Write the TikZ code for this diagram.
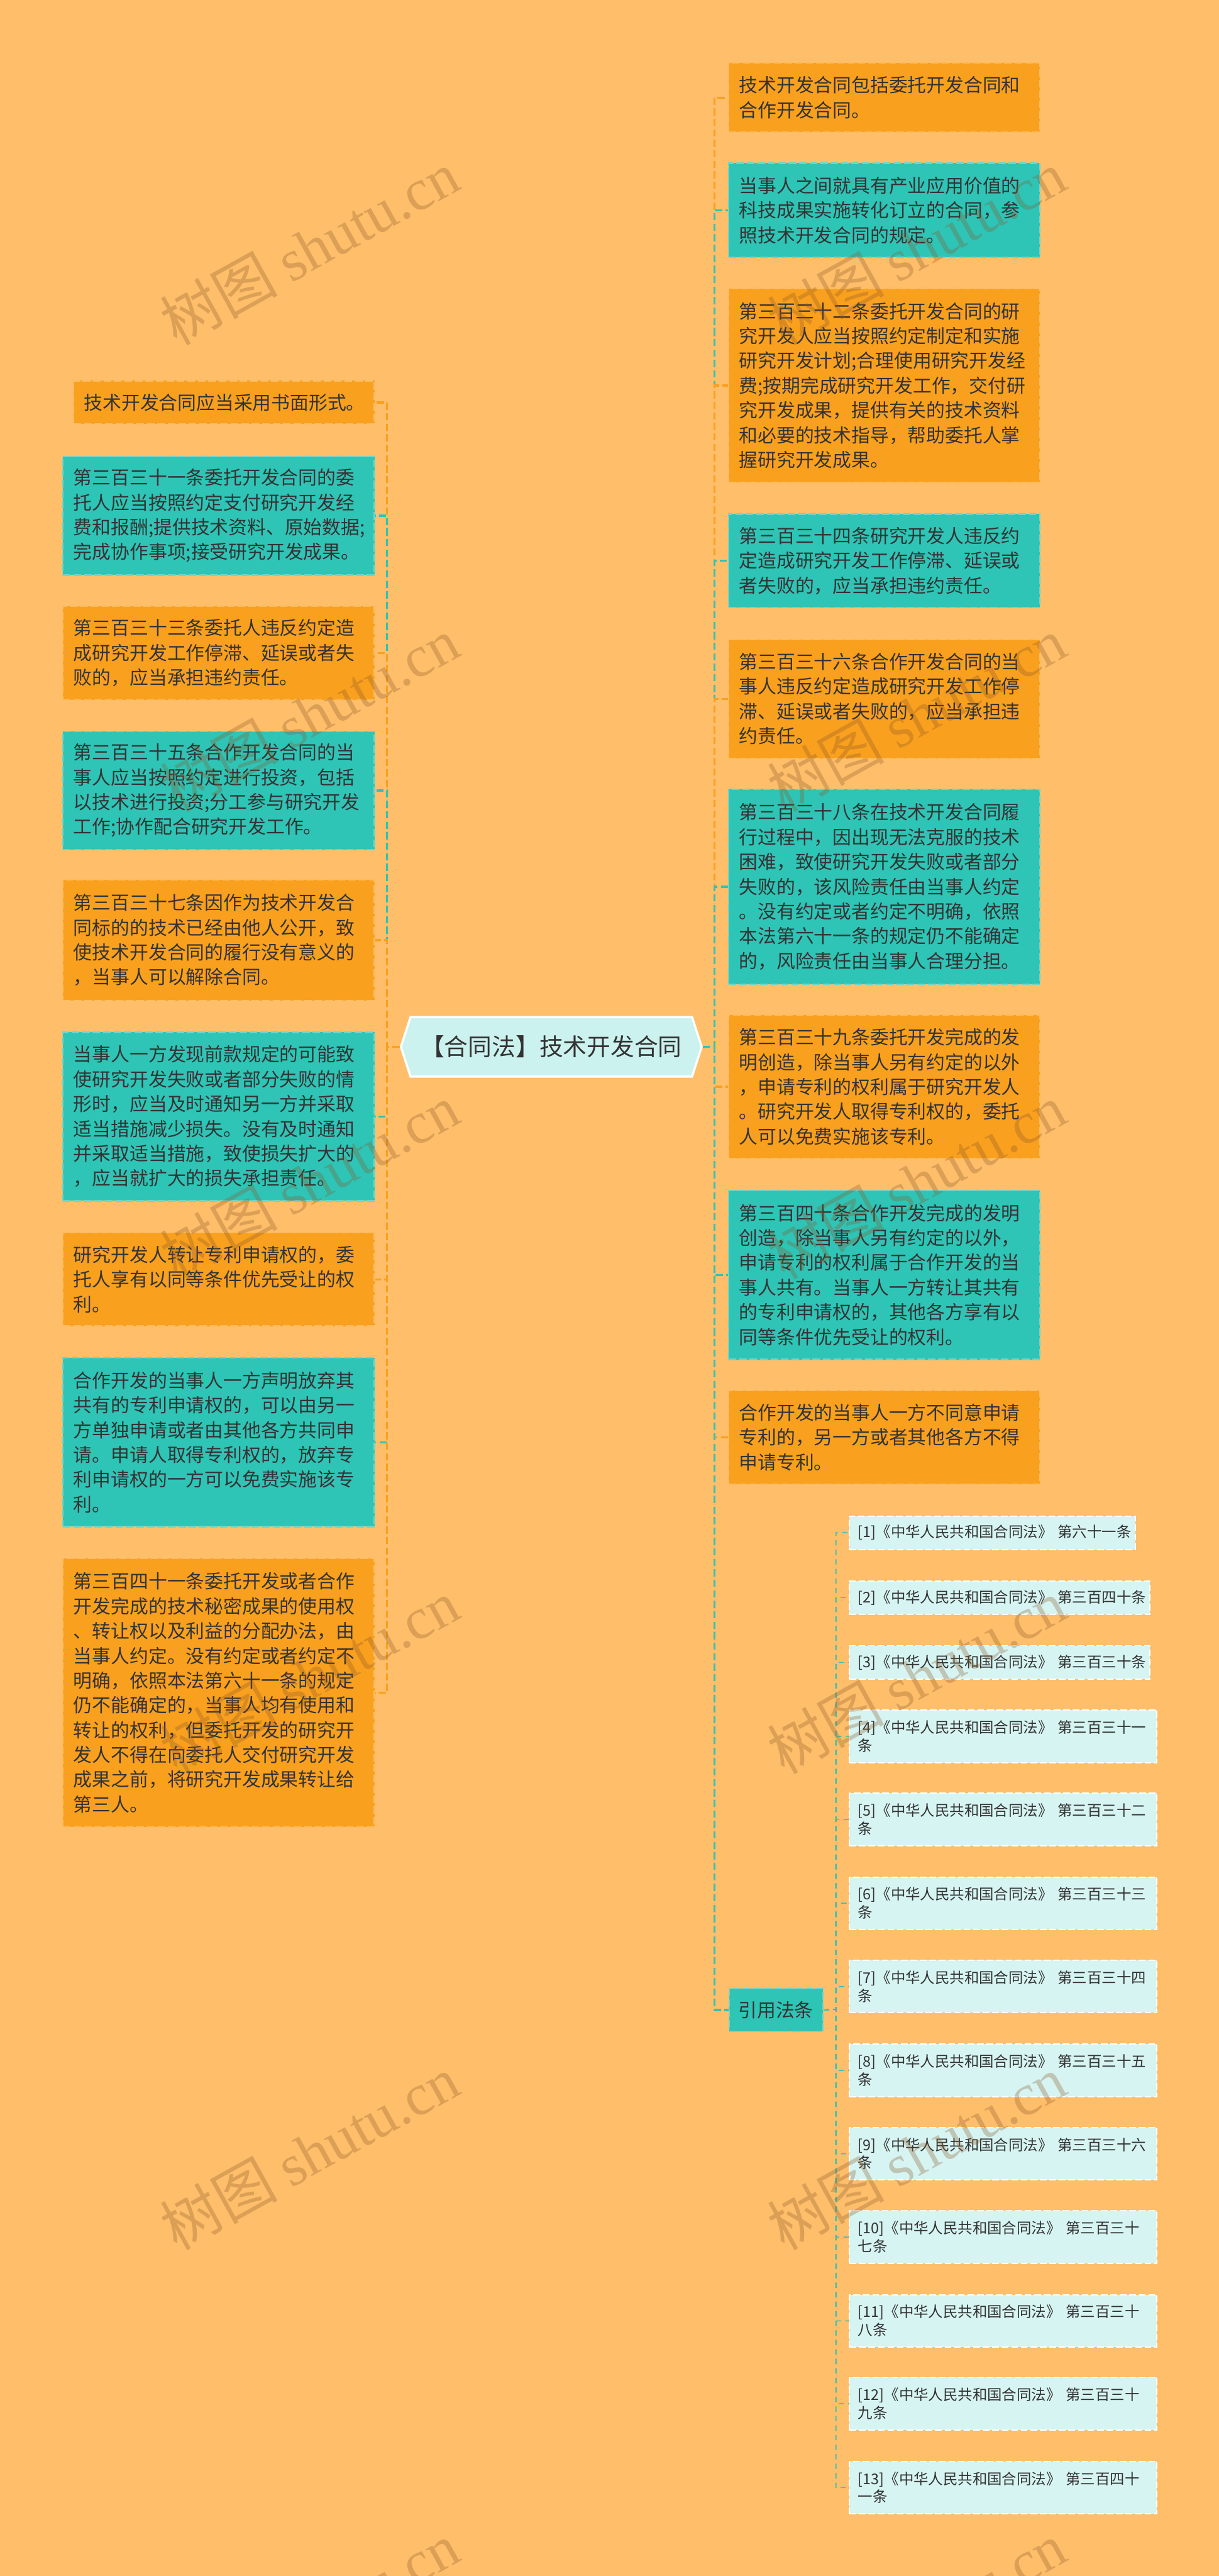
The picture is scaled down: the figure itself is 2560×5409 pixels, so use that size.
\documentclass[tikz,border=0pt]{standalone}
\usepackage{fontspec}
\setmainfont{Noto Sans CJK SC}
\newfontfamily\wmlatin{Liberation Serif}
\usetikzlibrary{shapes.symbols}

\definecolor{bgcol}{RGB}{254,190,106}
\definecolor{orbox}{RGB}{249,160,30}
\definecolor{tlbox}{RGB}{46,196,182}
\definecolor{citefill}{RGB}{214,244,242}
\definecolor{rootfill}{RGB}{204,242,239}
\definecolor{ink}{RGB}{51,51,51}
\definecolor{wmcol}{RGB}{140,90,40}

\begin{document}
\begin{tikzpicture}[
          x=0.1mm, y=-0.1mm,
          every node/.style={text=ink, inner sep=0pt},
          box/.style={anchor=north west, align=left, inner xsep=2.2mm, text width=61mm,
                      font=\fontsize{11.2pt}{14.8pt}\selectfont,
                      line width=0.3mm, dash pattern=on 1.6mm off 0.6mm},
          obox/.style={box, fill=orbox, draw=orbox!70!white},
          tbox/.style={box, fill=tlbox, draw=tlbox!70!white},
          cbox/.style={anchor=north west, align=left, inner xsep=1.8mm, text width=61mm,
                       fill=citefill, draw=white, line width=0.25mm, dash pattern=on 1.4mm off 0.6mm,
                       font=\fontsize{8.8pt}{10.8pt}\selectfont},
          link/.style={line width=0.45mm, dash pattern=on 1.5mm off 0.7mm},
          clink/.style={line width=0.2mm, dash pattern=on 1.1mm off 0.9mm, draw=tlbox},
          wmark/.style={rotate=29, text=wmcol, opacity=0.3, font=\fontsize{35pt}{35pt}\selectfont}]

            \useasboundingbox (0,0) rectangle (2560,5409);
            \fill[bgcol] (0,0) rectangle (2560,5409);

            \node[shape=signal, signal to=east and west, signal pointer angle=144,
                  fill=rootfill, draw=white, line width=0.45mm,
                  minimum width=63.2mm, minimum height=12.5mm,
                  font=\fontsize{14.2pt}{14.2pt}\selectfont] (root) at (1158,2198) {【合同法】技术开发合同};

            \node[obox, text width=58.8mm, minimum height=9.1mm] (l1) at (153,798) {技术开发合同应当采用书面形式。};
            \node[tbox, minimum height=24.9mm] (l2) at (131,957) {第三百三十一条委托开发合同的委\\托人应当按照约定支付研究开发经\\费和报酬;提供技术资料、原始数据;\\完成协作事项;接受研究开发成果。};
            \node[obox, minimum height=19.7mm] (l3) at (131,1271) {第三百三十三条委托人违反约定造\\成研究开发工作停滞、延误或者失\\败的，应当承担违约责任。};
            \node[tbox, minimum height=24.9mm] (l4) at (131,1534) {第三百三十五条合作开发合同的当\\事人应当按照约定进行投资，包括\\以技术进行投资;分工参与研究开发\\工作;协作配合研究开发工作。};
            \node[obox, minimum height=25.3mm] (l5) at (131,1846) {第三百三十七条因作为技术开发合\\同标的的技术已经由他人公开，致\\使技术开发合同的履行没有意义的\\，当事人可以解除合同。};
            \node[tbox, minimum height=35.4mm] (l6) at (131,2166) {当事人一方发现前款规定的可能致\\使研究开发失败或者部分失败的情\\形时，应当及时通知另一方并采取\\适当措施减少损失。没有及时通知\\并采取适当措施，致使损失扩大的\\，应当就扩大的损失承担责任。};
            \node[obox, minimum height=19.6mm] (l7) at (131,2587) {研究开发人转让专利申请权的，委\\托人享有以同等条件优先受让的权\\利。};
            \node[tbox, minimum height=35.4mm] (l8) at (131,2850) {合作开发的当事人一方声明放弃其\\共有的专利申请权的，可以由另一\\方单独申请或者由其他各方共同申\\请。申请人取得专利权的，放弃专\\利申请权的一方可以免费实施该专\\利。};
            \node[obox, minimum height=56.4mm] (l9) at (131,3271) {第三百四十一条委托开发或者合作\\开发完成的技术秘密成果的使用权\\、转让权以及利益的分配办法，由\\当事人约定。没有约定或者约定不\\明确，依照本法第六十一条的规定\\仍不能确定的，当事人均有使用和\\转让的权利，但委托开发的研究开\\发人不得在向委托人交付研究开发\\成果之前，将研究开发成果转让给\\第三人。};

            \node[obox, minimum height=14.5mm] (r1) at (1529,131) {技术开发合同包括委托开发合同和\\合作开发合同。};
            \node[tbox, minimum height=19.8mm] (r2) at (1529,341) {当事人之间就具有产业应用价值的\\科技成果实施转化订立的合同，参\\照技术开发合同的规定。};
            \node[obox, minimum height=40.8mm] (r3) at (1529,604) {第三百三十二条委托开发合同的研\\究开发人应当按照约定制定和实施\\研究开发计划;合理使用研究开发经\\费;按期完成研究开发工作，交付研\\究开发成果，提供有关的技术资料\\和必要的技术指导，帮助委托人掌\\握研究开发成果。};
            \node[tbox, minimum height=19.6mm] (r4) at (1529,1078) {第三百三十四条研究开发人违反约\\定造成研究开发工作停滞、延误或\\者失败的，应当承担违约责任。};
            \node[obox, minimum height=25mm] (r5) at (1529,1341) {第三百三十六条合作开发合同的当\\事人违反约定造成研究开发工作停\\滞、延误或者失败的，应当承担违\\约责任。};
            \node[tbox, minimum height=40.9mm] (r6) at (1529,1656) {第三百三十八条在技术开发合同履\\行过程中，因出现无法克服的技术\\困难，致使研究开发失败或者部分\\失败的，该风险责任由当事人约定\\。没有约定或者约定不明确，依照\\本法第六十一条的规定仍不能确定\\的，风险责任由当事人合理分担。};
            \node[obox, minimum height=30.1mm] (r7) at (1529,2130) {第三百三十九条委托开发完成的发\\明创造，除当事人另有约定的以外\\，申请专利的权利属于研究开发人\\。研究开发人取得专利权的，委托\\人可以免费实施该专利。};
            \node[tbox, minimum height=35.5mm] (r8) at (1529,2498) {第三百四十条合作开发完成的发明\\创造，除当事人另有约定的以外，\\申请专利的权利属于合作开发的当\\事人共有。当事人一方转让其共有\\的专利申请权的，其他各方享有以\\同等条件优先受让的权利。};
            \node[obox, minimum height=19.7mm] (r9) at (1529,2918) {合作开发的当事人一方不同意申请\\专利的，另一方或者其他各方不得\\申请专利。};
            \node[tbox, text width=15.8mm, inner xsep=1.95mm, minimum height=9mm] (cite) at (1530,4174) {引用法条};

            \node[cbox, text width=56.5mm, minimum height=7mm] (c1) at (1783,3182) {[1]《中华人民共和国合同法》~第六十一条};
            \node[cbox, text width=59.5mm, minimum height=7.1mm] (c2) at (1783,3318) {[2]《中华人民共和国合同法》~第三百四十条};
            \node[cbox, text width=59.5mm, minimum height=7.1mm] (c3) at (1783,3454) {[3]《中华人民共和国合同法》~第三百三十条};
            \node[cbox, minimum height=11.1mm] (c4) at (1783,3589) {[4]《中华人民共和国合同法》~第三百三十一\\条};
            \node[cbox, minimum height=11.1mm] (c5) at (1783,3764) {[5]《中华人民共和国合同法》~第三百三十二\\条};
            \node[cbox, minimum height=11mm] (c6) at (1783,3940) {[6]《中华人民共和国合同法》~第三百三十三\\条};
            \node[cbox, minimum height=11mm] (c7) at (1783,4115) {[7]《中华人民共和国合同法》~第三百三十四\\条};
            \node[cbox, minimum height=11mm] (c8) at (1783,4291) {[8]《中华人民共和国合同法》~第三百三十五\\条};
            \node[cbox, minimum height=11mm] (c9) at (1783,4466) {[9]《中华人民共和国合同法》~第三百三十六\\条};
            \node[cbox, minimum height=11mm] (c10) at (1783,4641) {[10]《中华人民共和国合同法》~第三百三十\\七条};
            \node[cbox, minimum height=11mm] (c11) at (1783,4817) {[11]《中华人民共和国合同法》~第三百三十\\八条};
            \node[cbox, minimum height=11mm] (c12) at (1783,4991) {[12]《中华人民共和国合同法》~第三百三十\\九条};
            \node[cbox, minimum height=11mm] (c13) at (1783,5167) {[13]《中华人民共和国合同法》~第三百四十\\一条};

            \coordinate (lt) at (813,2198);
            \coordinate (rt) at (1501,2198);
            \coordinate (ct) at (1756,4219);

            % left
            \foreach \b/\c in {l1/orbox, l2/tlbox, l3/orbox, l4/tlbox, l5/orbox,
                               l6/tlbox, l7/orbox, l8/tlbox, l9/orbox}
              \draw[link, draw=\c] (root.west) -- (lt) |- (\b.east);
            % right
            \foreach \b/\c in {r1/orbox, r2/tlbox, r3/orbox, r4/tlbox, r5/orbox,
                               r6/tlbox, r7/orbox, r8/tlbox, r9/orbox, cite/tlbox}
              \draw[link, draw=\c] (root.east) -- (rt) |- (\b.west);
            % cites
            \foreach \b in {c1, c2, c3, c4, c5, c6, c7, c8, c9, c10, c11, c12, c13}
              \draw[clink] (cite.east) -- (ct) |- (\b.west);

            % watermarks
            \foreach \y [count=\i] in {520, 1500, 2480, 3520, 4520, 5500} {
              \node[wmark] (wl\i) at (650,\y) {树图 {\wmlatin shutu.cn}};
              \node[wmark] (wr\i) at (1925,\y) {树图 {\wmlatin shutu.cn}};
            }
          \end{tikzpicture}
\end{document}
